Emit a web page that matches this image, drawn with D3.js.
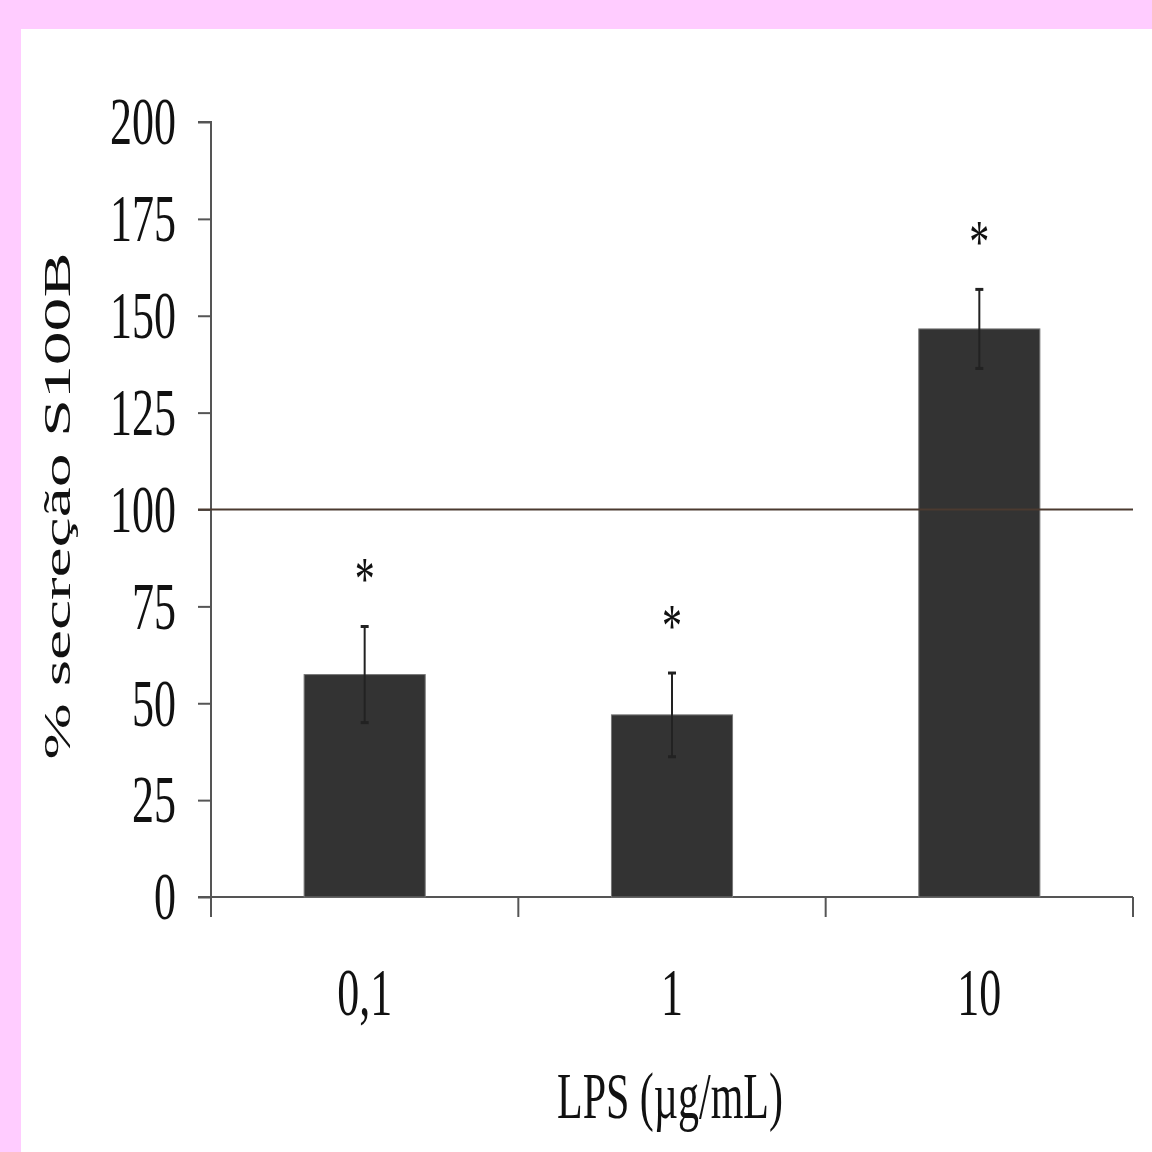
<!DOCTYPE html>
<html lang="pt">
<head>
  <meta charset="UTF-8">
  <title>Secreção S100B</title>
  <script src="https://d3js.org/d3.v7.min.js"></script>
  <style>
    body { margin: 0; background: #ffccff; }
    svg { display: block; }
    text { font-family: 'Liberation Serif', 'Times New Roman', serif; fill: #111; }
  </style>
</head>
<body>
  <svg width="1152" height="1152"></svg>
  <script>
    // data
    const categories = ["0,1", "1", "10"];
    const means = [57.4, 47.0, 146.6];
    const errors = [12.4, 10.8, 10.2];
    const stars = ["*", "*", "*"];
    const yTicks = [0, 25, 50, 75, 100, 125, 150, 175, 200];
    const refValue = 100;

    const stretch = 1.55; // the original text is tall and narrow
    const svg = d3.select("svg");

    svg.append("rect").attr("width", 1152).attr("height", 1152).attr("fill", "#ffccff");
    svg.append("rect").attr("x", 21).attr("y", 29).attr("width", 1131).attr("height", 1123).attr("fill", "#fff");

    const rows = categories.map((c, i) => ({ cat: c, mean: means[i], err: errors[i], star: stars[i] }));

    const x = d3.scaleBand().domain(categories).range([211, 1133])
      .paddingInner(0.606).paddingOuter(0.303);
    const y = d3.scaleLinear().domain([0, 200]).range([897, 122]);

    // y axis
    const yAxis = svg.append("g")
      .attr("transform", `translate(${x.range()[0]},0)`)
      .call(d3.axisLeft(y).tickValues(yTicks).tickSize(13).tickPadding(22));
    yAxis.select(".domain").attr("stroke", "#555").attr("stroke-width", 2)
      .attr("d", `M-13,${y(200)}H0V${y(0)}`);
    yAxis.selectAll(".tick line").attr("stroke", "#555").attr("stroke-width", 2);
    yAxis.selectAll(".tick text")
      .style("font-size", "44px")
      .attr("fill", "#111")
      .attr("transform", `scale(1,${stretch})`);

    // x axis: line with ticks on category boundaries
    const xa = svg.append("g");
    xa.append("line")
      .attr("x1", x.range()[0] - 13).attr("x2", x.range()[1])
      .attr("y1", y(0)).attr("y2", y(0))
      .attr("stroke", "#555").attr("stroke-width", 2);
    const bounds = d3.range(categories.length + 1).map(i => x.range()[0] + i * x.step());
    xa.selectAll(".xt").data(bounds).join("line")
      .attr("x1", d => d).attr("x2", d => d)
      .attr("y1", y(0)).attr("y2", y(0) + 20)
      .attr("stroke", "#555").attr("stroke-width", 2);
    xa.selectAll(".xl").data(categories).join("text")
      .attr("text-anchor", "middle")
      .style("font-size", "44px")
      .attr("transform", d => `translate(${x(d) + x.bandwidth() / 2},${y(0) + 118}) scale(1,${stretch})`)
      .text(d => d);

    // bars
    svg.selectAll(".bar").data(rows).join("rect")
      .attr("x", d => x(d.cat))
      .attr("y", d => y(d.mean))
      .attr("width", x.bandwidth())
      .attr("height", d => y(0) - y(d.mean))
      .attr("fill", "#333")
      .attr("stroke", "#777").attr("stroke-width", 1);

    // reference line at 100
    svg.append("line")
      .attr("x1", x.range()[0] - 13).attr("x2", x.range()[1])
      .attr("y1", y(refValue)).attr("y2", y(refValue))
      .attr("stroke", "#4b3a30").attr("stroke-width", 2);

    // error bars
    const eb = svg.selectAll(".err").data(rows).join("g");
    eb.append("line")
      .attr("x1", d => x(d.cat) + x.bandwidth() / 2).attr("x2", d => x(d.cat) + x.bandwidth() / 2)
      .attr("y1", d => y(d.mean + d.err)).attr("y2", d => y(d.mean - d.err))
      .attr("stroke", "#222").attr("stroke-width", 2);
    eb.selectAll("line.cap").data(d => [d.mean + d.err, d.mean - d.err].map(v => ({ v, c: x(d.cat) + x.bandwidth() / 2 })))
      .join("line").attr("class", "cap")
      .attr("x1", d => d.c - 4).attr("x2", d => d.c + 4)
      .attr("y1", d => y(d.v)).attr("y2", d => y(d.v))
      .attr("stroke", "#222").attr("stroke-width", 3);

    // significance stars
    svg.selectAll(".star").data(rows).join("text")
      .attr("text-anchor", "middle")
      .style("font-size", "40px")
      .attr("transform", d => `translate(${x(d.cat) + x.bandwidth() / 2},${y(d.mean + d.err + 15) + 31}) scale(1,${stretch})`)
      .text(d => d.star);

    // axis titles
    svg.append("text")
      .attr("text-anchor", "middle")
      .style("font-size", "38px")
      .attr("transform", `translate(70,506) rotate(-90) scale(1.78,1)`)
      .text("% secreção S100B");

    svg.append("text")
      .attr("text-anchor", "middle")
      .style("font-size", "42px")
      .attr("transform", `translate(670,1118) scale(1,${stretch})`)
      .text("LPS (µg/mL)");
  </script>
</body>
</html>
